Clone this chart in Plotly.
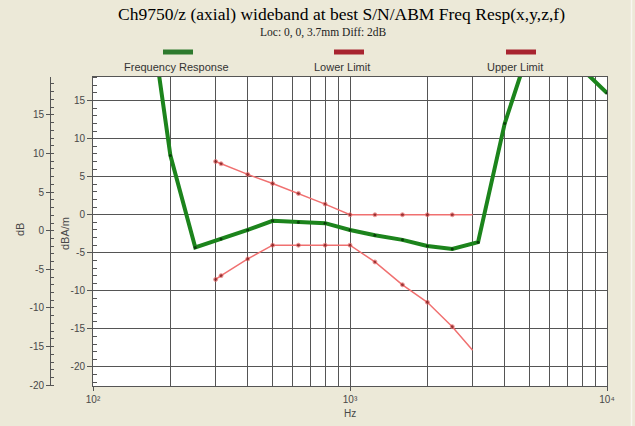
import plotly.graph_objects as go

# ---------------- data ----------------
resp_hz = [160, 200, 250, 315, 400, 500, 630, 800, 1000, 1250, 1600, 2000, 2500, 3150, 4000, 5000, 6300, 8000, 10000]
resp_db = [31, 7.8, -4.3, -3.2, -2.0, -0.8, -1.0, -1.1, -2.0, -2.7, -3.3, -4.1, -4.5, -3.6, 12.0, 22.0, 22.5, 19.2, 16.0]

limit_hz = [300, 315, 400, 500, 630, 800, 1000, 1250, 1600, 2000, 2500, 3000]
lower_db = [-8.5, -8.0, -5.8, -4.0, -4.0, -4.0, -4.0, -6.2, -9.2, -11.5, -14.7, -17.8]
upper_db = [7.0, 6.7, 5.3, 4.1, 2.8, 1.4, 0, 0, 0, 0, 0, 0]

x_tick_vals = [100, 1000, 10000]
x_tick_text = ["10²", "10³", "10⁴"]
x_grid_vals = [200, 300, 400, 500, 600, 700, 800, 900, 2000, 3000, 4000, 5000, 6000, 7000, 8000, 9000]
y_tick_vals = [-20, -15, -10, -5, 0, 5, 10, 15]
y_tick_text = ["-20", "-15", "-10", "-5", "0", "5", "10", "15"]
y2_tick_vals = [-20, -15, -10, -5, 0, 5, 10, 15, 20]
y2_tick_text = ["-20", "-15", "-10", "-5", "0", "5", "10", "15", "20"]

title = "Ch9750/z (axial) wideband at best S/N/ABM Freq Resp(x,y,z,f)"
subtitle = "Loc: 0, 0, 3.7mm Diff: 2dB"
legend_names = ["Frequency Response", "Lower Limit", "Upper Limit"]

# ---------------- geometry ----------------
W, H = 635, 426
ML, MR, MT, MB = 40, 28, 77, 40
PW = W - ML - MR
PH = H - MT - MB

def px(x):
    return (x - ML) / PW

def py(y):
    return (H - MB - y) / PH

GREEN = "#1C841C"
RED_LINE = "#F07070"
RED_DOT = "#7A1010"
GRID = "#555555"
AXC = "#555555"
TICKFONT = dict(family="Liberation Sans, Arial, sans-serif", size=10, color="#484848")

fig = go.Figure()

fig.add_trace(go.Scatter(
    x=limit_hz, y=upper_db, mode="lines+markers", name=legend_names[2],
    line=dict(color=RED_LINE, width=1.5),
    marker=dict(color=RED_DOT, size=[4] * (len(limit_hz) - 1) + [0]),
))
fig.add_trace(go.Scatter(
    x=limit_hz, y=lower_db, mode="lines+markers", name=legend_names[1],
    line=dict(color=RED_LINE, width=1.5),
    marker=dict(color=RED_DOT, size=[4] * (len(limit_hz) - 1) + [0]),
))
fig.add_trace(go.Scatter(
    x=resp_hz, y=resp_db, mode="lines+markers", name=legend_names[0],
    line=dict(color=GREEN, width=4),
    marker=dict(color="#0B3D0B", size=3),
))

fig.update_layout(
    width=W, height=H,
    paper_bgcolor="#ECE9D8", plot_bgcolor="white",
    margin=dict(l=ML, r=MR, t=MT, b=MB),
    showlegend=False,
    xaxis=dict(
        type="log", range=[2, 4], domain=[px(93), 1],
        showline=True, mirror=True, linecolor=AXC, linewidth=1,
        tickvals=x_tick_vals, ticktext=x_tick_text,
        ticks="outside", ticklen=4, tickcolor=AXC, tickfont=TICKFONT,
        showgrid=True, gridcolor=GRID, gridwidth=1.2,
        minor=dict(tickvals=x_grid_vals, showgrid=True, gridcolor=GRID, gridwidth=1.2, ticks=""),
        zeroline=False,
    ),
    yaxis=dict(
        range=[-22.5, 18.1],
        tickvals=y_tick_vals, ticktext=y_tick_text,
        showline=True, mirror=True, linecolor=AXC, linewidth=1,
        ticks="outside", ticklen=5, tickcolor=AXC, tickfont=TICKFONT,
        showgrid=True, gridcolor=GRID, gridwidth=1.2,
        minor=dict(dtick=1, ticks="inside", ticklen=4, tickcolor=AXC, showgrid=False),
        zeroline=False,
    ),
    yaxis2=dict(
        overlaying="y", anchor="free", position=px(50), side="left",
        range=[-20.1, 19.9],
        tickvals=y2_tick_vals, ticktext=y2_tick_text,
        showline=True, linecolor=AXC, linewidth=1,
        ticks="outside", ticklen=4, tickcolor=AXC, tickfont=TICKFONT,
        minor=dict(dtick=1, ticks="inside", ticklen=3, tickcolor=AXC, showgrid=False),
        showgrid=False, zeroline=False,
    ),
)

# invisible trace to keep the secondary axis alive
fig.add_trace(go.Scatter(x=[limit_hz[0]], y=[upper_db[-1]], yaxis="y2", mode="markers",
                         marker=dict(opacity=0), hoverinfo="skip", showlegend=False))

ann = []
ann.append(dict(text=title, x=px(341), y=py(14), xref="paper", yref="paper",
                showarrow=False, xanchor="center", yanchor="middle",
                font=dict(family="Liberation Serif, Times New Roman, serif", size=17.5, color="#000000")))
ann.append(dict(text=subtitle, x=px(323), y=py(33), xref="paper", yref="paper",
                showarrow=False, xanchor="center", yanchor="middle",
                font=dict(family="Liberation Serif, Times New Roman, serif", size=11.5, color="#222222")))
ann.append(dict(text="Hz", x=px(350), y=py(413), xref="paper", yref="paper",
                showarrow=False, xanchor="center", yanchor="middle", font=TICKFONT))
ann.append(dict(text="dB", x=px(20), y=py(230), xref="paper", yref="paper", textangle=-90,
                showarrow=False, xanchor="center", yanchor="middle", font=dict(TICKFONT, size=11)))
ann.append(dict(text="dBA/m", x=px(65), y=py(234), xref="paper", yref="paper", textangle=-90,
                showarrow=False, xanchor="center", yanchor="middle", font=dict(TICKFONT, size=11)))

shapes = []
leg = [(176, 178, "#2E7A2E"), (342, 349, "#A82430"), (515, 521, "#A82430")]
for (lx, sx, col), name in zip(leg, legend_names):
    shapes.append(dict(type="line", xref="paper", yref="paper",
                       x0=px(sx - 15), x1=px(sx + 15), y0=py(52), y1=py(52),
                       line=dict(color=col, width=5)))
    ann.append(dict(text=name, x=px(lx), y=py(67), xref="paper", yref="paper",
                    showarrow=False, xanchor="center", yanchor="middle",
                    font=dict(family="Liberation Sans, Arial, sans-serif", size=11, color="#333333")))
# light panel edge at the right
shapes.append(dict(type="line", xref="paper", yref="paper",
                   x0=px(631.5), x1=px(631.5), y0=py(0), y1=py(426),
                   line=dict(color="#F8F7F0", width=1.5)))

fig.update_layout(annotations=ann, shapes=shapes)

fig.write_html("out.html", config={"displayModeBar": False},
               post_script="document.body.style.margin='0';document.body.style.padding='0';"
                           "document.body.style.overflow='hidden';")
